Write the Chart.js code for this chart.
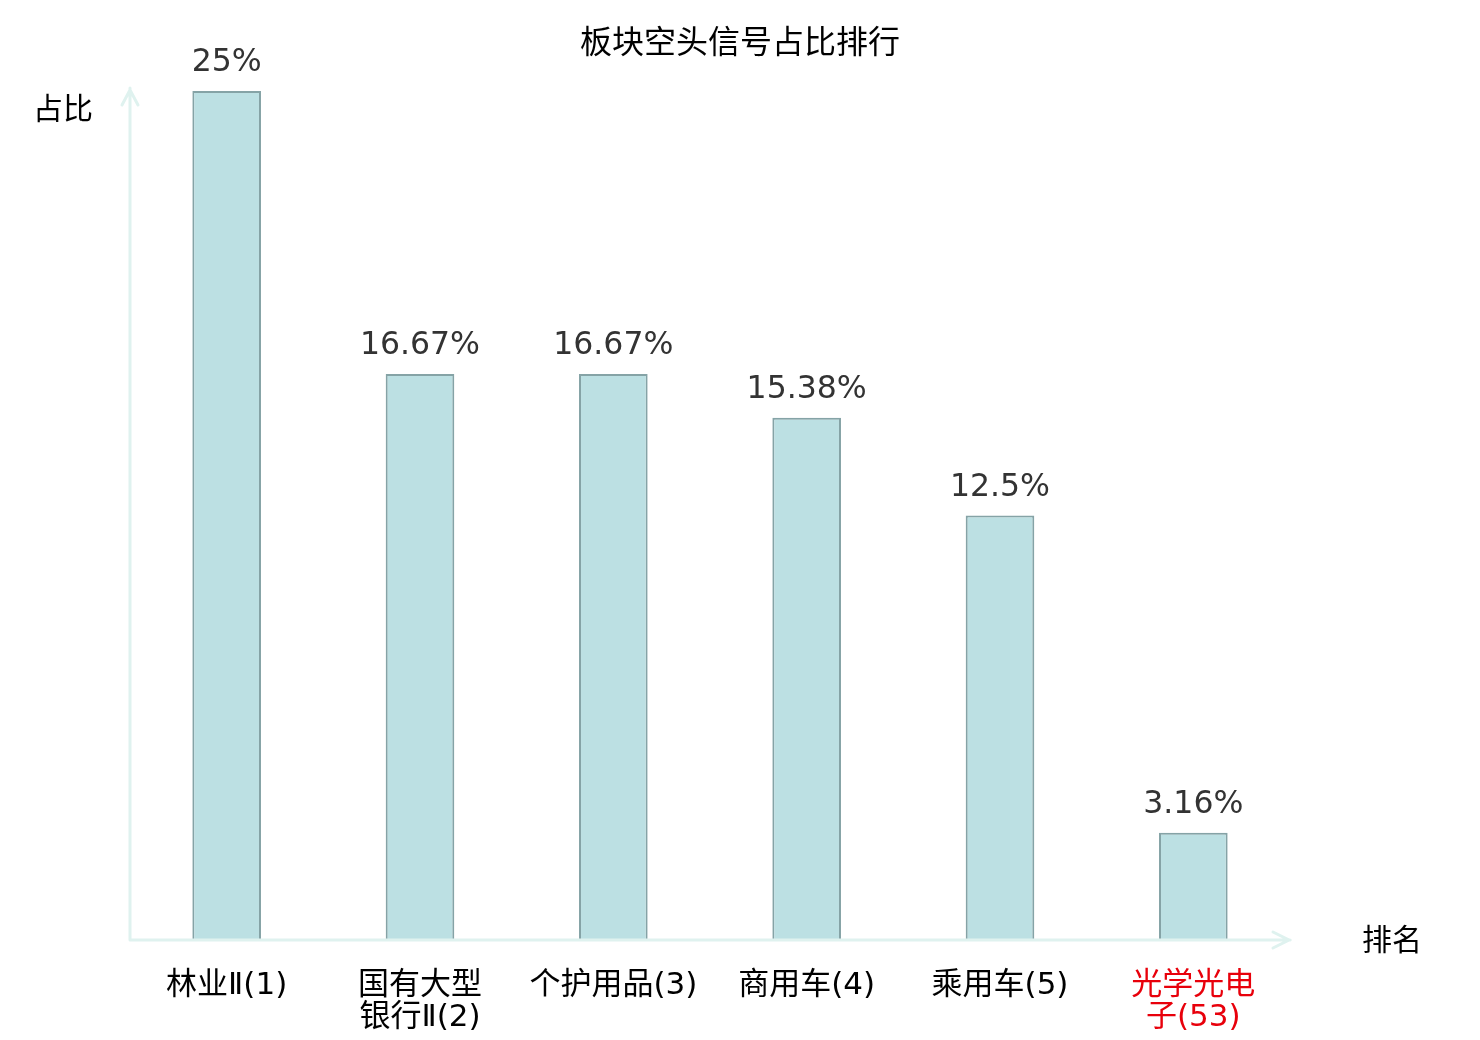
<!DOCTYPE html>
<html>
<head>
<meta charset="utf-8">
<script src="https://cdn.jsdelivr.net/npm/chart.js@4"></script>
<style>
  html, body { margin: 0; padding: 0; background: #fff; }
  #wrap { width: 1480px; height: 1040px; }
</style>
</head>
<body>
<div id="wrap"><canvas id="chart"></canvas></div>
<script>
const categories = [['林业Ⅱ(1)'], ['国有大型', '银行Ⅱ(2)'], ['个护用品(3)'], ['商用车(4)'], ['乘用车(5)'], ['光学光电', '子(53)']]
const ratios = [25, 16.67, 16.67, 15.38, 12.5, 3.16]
const labelColors = ['#000', '#000', '#000', '#000', '#000', '#e8000b']

const FONT = '"DejaVu Sans", "Noto Sans CJK SC", sans-serif'
const AXIS_COLOR = '#dff2ef'

// title, axes with arrows, axis names and the value labels
const decor = {
  id: 'decor',
  afterDatasetsDraw(chart) {
    const { ctx, chartArea: a } = chart
    ctx.save()
    ctx.strokeStyle = AXIS_COLOR
    ctx.lineWidth = 3
    ctx.lineCap = 'round'
    ctx.beginPath()
    ctx.moveTo(a.left, a.bottom)
    ctx.lineTo(a.left, a.top - 3)
    ctx.moveTo(a.left - 8, a.top + 14)
    ctx.lineTo(a.left, a.top - 1)
    ctx.lineTo(a.left + 8, a.top + 14)
    ctx.moveTo(a.left, a.bottom)
    ctx.lineTo(a.right, a.bottom)
    ctx.moveTo(a.right - 17, a.bottom - 8)
    ctx.lineTo(a.right - 1, a.bottom)
    ctx.lineTo(a.right - 17, a.bottom + 8)
    ctx.stroke()

    ctx.textAlign = 'center'
    ctx.textBaseline = 'middle'
    ctx.fillStyle = '#000'
    ctx.font = '32px ' + FONT
    ctx.fillText('板块空头信号占比排行', chart.width / 2, 45)
    ctx.font = '30px ' + FONT
    ctx.fillText('占比', a.left - 67, a.top + 20)
    ctx.fillText('排名', a.right + 102, a.bottom + 2)

    ctx.fillStyle = '#333'
    ctx.font = '31.5px ' + FONT
    const meta = chart.getDatasetMeta(0)
    meta.data.forEach((bar, i) => {
      ctx.fillText(ratios[i] + '%', bar.x, bar.y - 28)
    })
    ctx.restore()
  }
}

new Chart(document.getElementById('chart'), {
  type: 'bar',
  data: {
    labels: categories,
    datasets: [{
      data: ratios,
      backgroundColor: '#bce0e3',
      borderColor: '#85a3a6',
      borderWidth: 2,
      barPercentage: 0.355,
      categoryPercentage: 1
    }]
  },
  options: {
    responsive: true,
    maintainAspectRatio: false,
    animation: false,
    layout: { padding: { left: 130, right: 190, top: 91, bottom: 0 } },
    plugins: {
      legend: { display: false },
      tooltip: { enabled: false },
      title: { display: false }
    },
    scales: {
      x: {
        grid: { display: false },
        border: { display: false },
        afterFit(scale) { scale.height = 100 },
        ticks: {
          color: ctx => labelColors[ctx.index],
          font: { size: 31, family: FONT, lineHeight: 1.04 },
          padding: 22,
          maxRotation: 0,
          autoSkip: false
        }
      },
      y: {
        display: false,
        min: 0,
        max: 25
      }
    }
  },
  plugins: [decor]
})
</script>
</body>
</html>
